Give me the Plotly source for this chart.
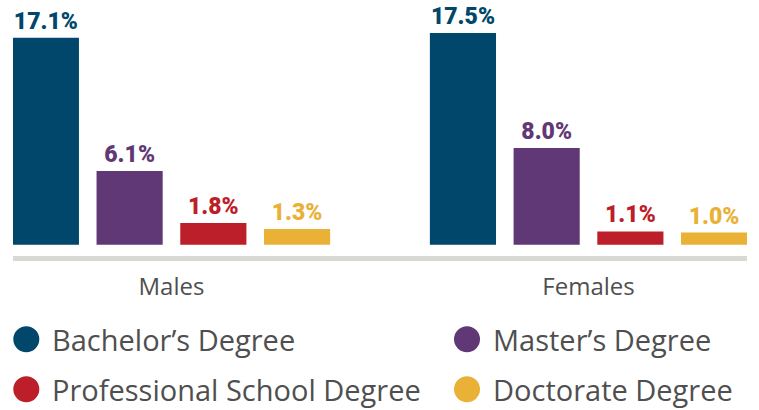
import plotly.graph_objects as go

groups = ["Males", "Females"]
series = ["Bachelor’s Degree", "Master’s Degree", "Professional School Degree", "Doctorate Degree"]
bachelor = [17.1, 17.5]
master = [6.1, 8.0]
professional = [1.8, 1.1]
doctorate = [1.3, 1.0]
colors = ["#00476B", "#613876", "#BC1F2A", "#E9B236"]

values = [bachelor, master, professional, doctorate]

W, H = 759, 410
plot_bottom = 256
fig = go.Figure()
for name, vals, col in zip(series, values, colors):
    fig.add_trace(go.Bar(
        x=groups, y=vals, name=name, marker=dict(color=col, line=dict(width=0)),
        texttemplate="%{y:.1f}%", textposition="outside", cliponaxis=False,
        constraintext="none",
        textfont=dict(family="Roboto", size=23, color=col, weight=900),
        showlegend=False, hoverinfo="skip",
    ))

# legend drawn as circles + labels (two columns)
leg_pos = [(26.3, 339.3, 50), (467, 339.3, 491), (26.3, 389.3, 50), (467, 389.3, 491)]
for (cx, cy, tx), name, col in zip(leg_pos, series, colors):
    py = (plot_bottom - cy) / plot_bottom
    fig.add_shape(type="circle", xref="paper", yref="paper", xsizemode="pixel", ysizemode="pixel",
                  xanchor=cx / W, yanchor=py, x0=-13, x1=13, y0=-13, y1=13,
                  fillcolor=col, line=dict(width=0))
    fig.add_annotation(xref="paper", yref="paper", x=tx / W, y=py, text=name, showarrow=False,
                       xanchor="left", yanchor="middle",
                       font=dict(family="Open Sans", size=29, color="#4F4F4F"))

zero_px = 244.7
px_per = 12.1
fig.update_layout(
    width=W, height=H, autosize=False,
    margin=dict(l=0, r=0, t=0, b=H - plot_bottom),
    paper_bgcolor="white", plot_bgcolor="white",
    barmode="group", bargap=0.197, bargroupgap=0.21,
    xaxis=dict(domain=[13 / W, 747 / W], range=[-0.38, 1.38], showline=True, linewidth=5,
               linecolor="#D9D8D3", ticks="", showgrid=False, zeroline=False,
               tickfont=dict(family="Open Sans", size=24, color="#4F4F4F"), ticklabelstandoff=5),
    yaxis=dict(range=[-(plot_bottom - zero_px) / px_per, zero_px / px_per], visible=False,
               showgrid=False, zeroline=False),
)
fig.write_html("out.html", config={"displayModeBar": False},
               post_script="document.body.style.margin='0';")
